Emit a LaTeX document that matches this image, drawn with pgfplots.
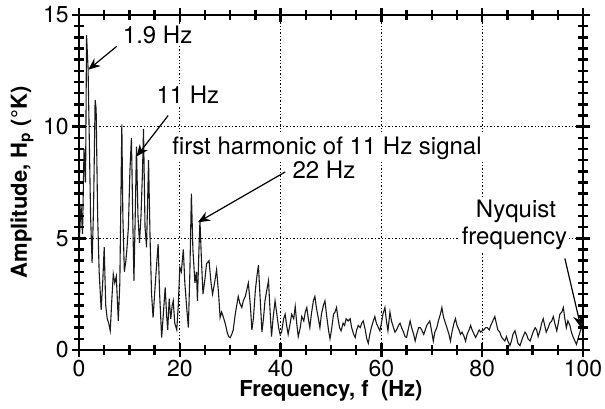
\documentclass[border=0pt]{standalone}
\usepackage{pgfplots}
\pgfplotsset{compat=1.18}
\usepackage{pgfplotstable}
\usepackage{fontspec}
\setmainfont{TeX Gyre Heros}
\usetikzlibrary{arrows.meta}
\pgfplotstableread{
f A
0.0 4.6
0.4 6.5
0.7 5.2
1.0 9.0
1.3 7.5
1.5 14.1
1.8 12.6
2.0 10.0
2.3 6.0
2.6 3.9
2.9 6.5
3.2 11.2
3.4 10.8
3.7 6.0
4.0 3.5
4.4 1.8
4.7 3.0
5.0 4.6
5.3 2.0
5.6 1.4
5.9 1.2
6.2 0.86
6.5 2.2
6.8 3.4
7.1 3.0
7.4 3.3
7.8 1.3
8.1 3.0
8.5 10.1
8.7 6.0
9.0 3.5
9.3 4.0
9.5 4.5
9.8 5.5
10.1 8.0
10.4 9.5
10.7 5.5
10.9 3.1
11.2 6.5
11.4 9.1
11.7 6.0
12.0 4.8
12.3 6.0
12.6 8.0
12.8 9.9
13.1 5.5
13.4 4.6
13.6 6.5
13.8 8.5
14.1 5.0
14.4 2.5
14.7 1.45
15.0 2.5
15.3 3.5
15.7 4.75
16.0 2.5
16.4 0.55
16.7 1.5
17.1 2.8
17.4 1.5
17.6 0.9
17.9 2.3
18.2 1.4
18.5 2.0
18.7 2.2
19.0 1.2
19.4 0.9
19.7 2.0
20.0 3.7
20.3 3.5
20.7 4.5
21.0 3.0
21.4 1.8
21.7 1.0
22.0 3.5
22.3 7.0
22.6 4.5
23.0 3.0
23.3 3.5
23.5 2.2
23.8 4.5
24.0 5.8
24.3 4.0
24.6 2.5
25.0 3.2
25.3 3.86
25.8 4.0
26.2 3.0
26.5 2.5
26.9 3.0
27.3 3.6
27.7 2.5
28.0 1.45
28.3 1.7
28.6 1.5
29.0 1.2
29.4 0.8
29.7 0.6
30.0 0.55
30.3 0.7
30.6 0.9
31.0 1.6
31.3 2.0
31.6 2.4
31.9 2.1
32.3 1.9
32.6 2.2
33.0 2.4
33.3 2.7
33.6 3.0
34.0 2.0
34.3 0.9
34.6 1.4
35.0 2.7
35.3 3.3
35.6 3.8
35.9 2.5
36.3 0.8
36.6 1.4
36.9 2.2
37.2 2.6
37.6 3.1
37.9 1.8
38.2 0.6
38.5 1.4
38.9 2.2
39.2 1.7
39.6 1.0
39.9 0.7
40.2 0.8
40.6 1.4
40.9 1.6
41.2 1.1
41.5 0.7
41.9 1.2
42.2 1.6
42.6 1.4
42.9 1.95
43.2 1.2
43.5 0.6
43.9 1.0
44.2 1.5
44.6 1.3
44.9 1.7
45.2 1.9
45.5 1.4
45.8 1.0
46.1 1.6
46.5 2.2
46.8 2.4
47.1 1.9
47.5 1.4
47.8 1.0
48.1 1.6
48.5 2.0
48.8 2.2
49.1 1.6
49.5 0.9
49.8 0.5
50.1 0.9
50.5 1.6
50.8 1.7
51.1 1.9
51.4 1.4
51.7 1.0
52.0 0.86
52.4 1.2
52.7 1.1
53.0 1.4
53.4 1.3
53.8 1.4
54.1 1.0
54.5 0.7
54.8 0.56
55.1 0.9
55.4 1.1
55.8 1.0
56.1 1.2
56.4 1.3
56.8 0.9
57.1 0.5
57.4 0.3
57.7 0.7
58.0 1.0
58.4 1.3
58.7 1.5
59.0 1.2
59.4 1.0
59.7 0.86
60.0 1.2
60.3 1.6
60.7 1.9
61.0 1.3
61.3 0.86
61.7 1.7
62.0 1.3
62.4 1.0
62.7 0.8
63.0 0.9
63.4 1.1
63.7 1.2
64.0 1.0
64.4 0.8
64.7 0.6
65.0 0.56
65.3 0.9
65.7 1.3
66.0 1.0
66.4 0.7
66.7 0.4
67.0 0.7
67.4 1.0
67.7 1.0
68.0 0.9
68.4 0.7
68.7 0.9
69.0 1.1
69.3 1.2
69.6 1.3
70.0 0.8
70.3 0.4
70.6 0.8
71.0 1.0
71.3 1.3
71.7 1.6
72.0 1.9
72.3 1.5
72.7 1.2
73.0 1.0
73.4 0.7
73.7 0.4
74.0 0.8
74.4 1.2
74.7 1.4
75.0 1.1
75.4 0.9
75.7 0.7
76.0 0.8
76.4 0.6
76.7 0.4
77.0 0.7
77.4 0.9
77.7 1.1
78.0 0.9
78.4 0.7
78.7 0.56
79.0 0.7
79.4 0.9
79.7 0.8
80.0 0.86
80.3 0.9
80.7 1.0
81.0 1.0
81.4 0.9
81.7 1.1
82.1 1.3
82.5 1.5
82.8 1.2
83.1 0.9
83.5 0.8
83.8 0.6
84.1 0.5
84.5 0.4
84.8 0.6
85.1 0.4
85.5 0.2
85.8 0.4
86.1 0.7
86.5 0.86
86.8 0.6
87.1 0.3
87.5 0.2
87.8 0.4
88.1 0.6
88.5 0.8
88.8 0.7
89.1 0.5
89.5 0.4
89.8 0.6
90.1 0.8
90.5 1.0
90.8 0.9
91.1 0.6
91.5 0.9
91.8 1.2
92.1 1.4
92.4 1.1
92.7 0.8
93.1 1.0
93.4 1.2
93.8 1.3
94.1 1.5
94.4 1.2
94.8 0.86
95.1 1.2
95.4 1.6
95.8 1.7
96.1 1.9
96.4 1.4
96.7 1.0
97.0 1.3
97.4 1.1
97.7 0.8
98.0 0.6
98.4 0.4
98.7 0.25
99.0 0.5
99.4 0.8
99.7 1.0
100.0 1.5
}\spec
\begin{document}
\begin{tikzpicture}
\begin{axis}[
  scale only axis, width=252pt, height=167.5pt,
  xmin=0, xmax=100, ymin=0, ymax=15,
  xtick={0,20,40,60,80,100}, ytick={0,5,10,15},
  tick align=center, major tick length=7pt,
  xmajorgrids, ymajorgrids,
  major grid style={black, line width=0.7pt, dash pattern=on 0.7pt off 1pt},
  axis line style={black, line width=0.9pt},
  ticklabel style={font=\fontsize{11.5}{13}\selectfont, inner sep=1.5pt},
  /pgf/number format/assume math mode=true,
  xlabel={Frequency, f\ \ (Hz)},
  ylabel={Amplitude, H\textsubscript{p} (°K)},
  label style={font=\bfseries\fontsize{11}{13}\selectfont},
  xlabel style={at={(axis description cs:0.5,-0.122)}, anchor=center},
  ylabel style={at={(axis description cs:-0.113,0.5)}, anchor=center},
  clip=false,
]
\addplot[black!90, line width=0.55pt, mark=none] table[x=f, y=A] {\spec};
\begin{scope}[every node/.style={fill=white, inner sep=1pt, font=\fontsize{12}{14}\selectfont}]
\node at (axis cs:15.6,14.1) {1.9 Hz};
\node at (axis cs:21.6,11.45) {11 Hz};
\node at (axis cs:49.2,9.05) {first harmonic of 11 Hz signal};
\node at (axis cs:48.6,8.06) {22 Hz};
\node at (axis cs:86.7,6.2) {Nyquist};
\node at (axis cs:86.4,5.0) {frequency};
\end{scope}
\begin{scope}[-{Stealth[length=6pt,width=5pt,inset=2pt]}, line width=0.6pt, black]
\draw (axis cs:7.5,13.6) -- (axis cs:1.85,12.55);
\draw (axis cs:17.7,10.5) -- (axis cs:11.4,8.66);
\draw (axis cs:40.9,7.97) -- (axis cs:23.6,5.72);
\draw (axis cs:96.4,4.1) -- (axis cs:99.6,1.0);
\end{scope}
\end{axis}
\begin{axis}[
  scale only axis, width=252pt, height=167.5pt,
  xmin=0, xmax=100, ymin=0, ymax=15,
  xtick={0,20,40,60,80,100}, ytick={0,5,10,15},
  minor x tick num=3, minor y tick num=9,
  xticklabels={}, yticklabels={},
  tick align=center, major tick length=7pt, minor tick length=5pt,
  tick style={black, line width=1.2pt},
  axis line style={black, line width=0.9pt},
]
\end{axis}
\pgfresetboundingbox
\path ([shift={(-39.5pt,-29.5pt)}]current axis.south west) rectangle ([shift={(11pt,7.5pt)}]current axis.north east);
\end{tikzpicture}
\end{document}
